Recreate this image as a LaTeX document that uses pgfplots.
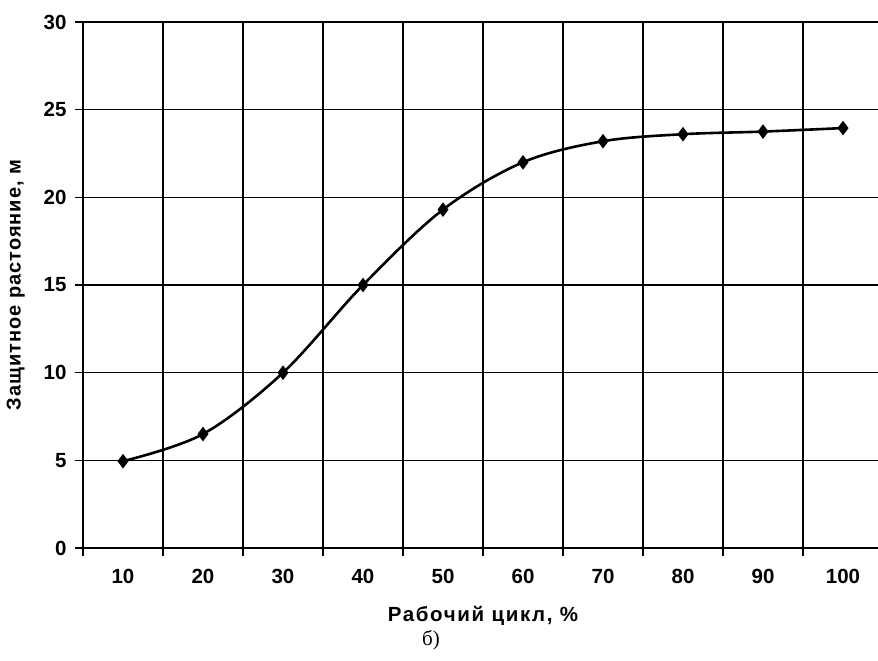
\documentclass[border=0pt]{standalone}
\usepackage{fontspec}
\setmainfont{Liberation Sans}
\newfontfamily\seriffont{Liberation Serif}
\usepackage{pgfplots}
\pgfplotsset{compat=1.18}

\begin{document}
\begin{tikzpicture}
\begin{axis}[
  scale only axis,
  width=800pt, height=526pt,
  xmin=0.5, xmax=10.5,
  ymin=0, ymax=30,
  xtick={0.5,1.5,...,10.5},
  x tick label as interval,
  xticklabels={10,20,30,40,50,60,70,80,90,100},
  ytick={0,5,...,30},
  /pgf/number format/assume math mode=true,
  xmajorgrids, ymajorgrids,
  grid style={black, line width=1.4pt},
  axis lines=left,
  axis line style={-, line width=1.4pt, black},
  tick align=outside,
  major tick length=8pt,
  tick style={black, line width=1.4pt},
  tick label style={font=\fontsize{20.5}{23}\selectfont\bfseries},
  xticklabel style={yshift=-10pt},
  yticklabel style={xshift=-5pt},
  xlabel={\fontsize{20.5}{23}\selectfont\bfseries\addfontfeatures{LetterSpace=8}Рабочий цикл, \%},
  ylabel={\fontsize{20}{23}\selectfont\bfseries\addfontfeatures{LetterSpace=5}Защитное растояние, м},
  xlabel style={yshift=-15pt},
  ylabel style={yshift=12pt},
  clip=false,
]
\addplot[black, line width=2.6pt, smooth, tension=0.55,
  mark=diamond*, mark size=6.5pt, mark options={solid, fill=black, line width=1pt}]
  coordinates {
  (1,4.95) (2,6.5) (3,10.0) (4,15.0) (5,19.3)
  (6,22.0) (7,23.2) (8,23.6) (9,23.75) (10,23.95)
  };
\end{axis}
\node[font=\seriffont\fontsize{21}{23}\selectfont] at ([shift={(-52pt,-92pt)}]current axis.south) {б)};
\pgfresetboundingbox
\path[use as bounding box] ([shift={(-83pt,-113pt)}]current axis.south west) rectangle ([shift={(-5pt,22pt)}]current axis.north east);
\end{tikzpicture}
\end{document}
